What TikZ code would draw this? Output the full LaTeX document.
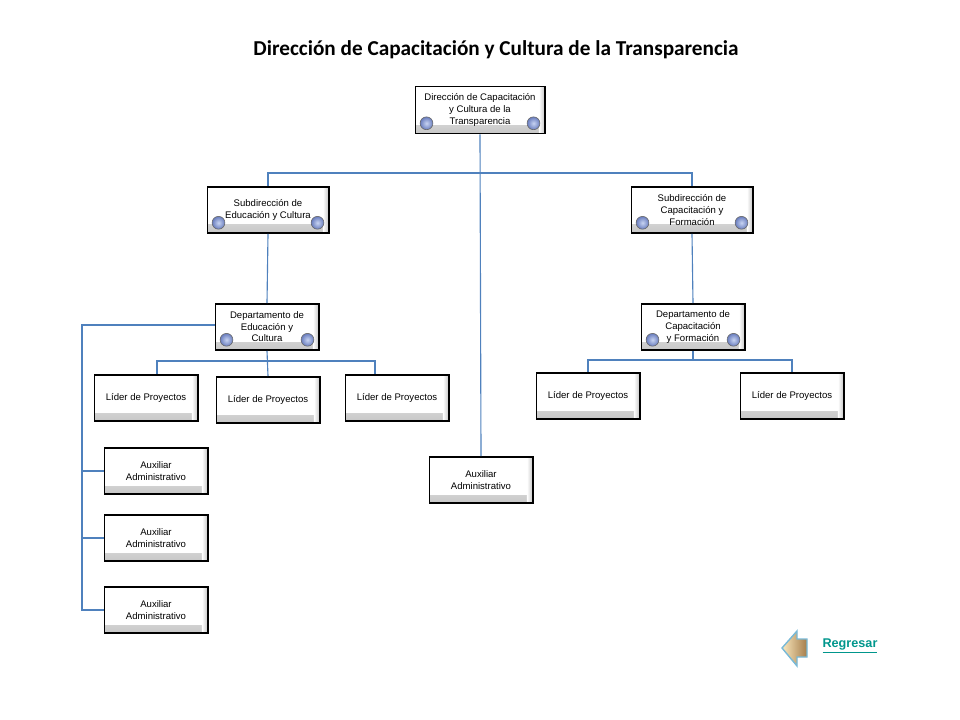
\documentclass[tikz,border=0pt]{standalone}
\usepackage{fontspec}
\setmainfont{Liberation Sans}
\newfontfamily\titulofont{Carlito}
\usetikzlibrary{calc}
\definecolor{linea}{RGB}{79,129,189}
\definecolor{bolaclaro}{RGB}{200,212,242}
\definecolor{bolaazul}{RGB}{105,125,190}
\definecolor{regresar}{RGB}{0,150,140}
\definecolor{flechaclaro}{RGB}{250,232,190}
\definecolor{flechaoscuro}{RGB}{165,125,75}
\definecolor{flechaborde}{RGB}{120,185,215}
\tikzset{
  caja/.style={draw=black, line width=1.4pt, fill=white, minimum width=2.575cm, minimum height=1.15cm,
    align=center, inner sep=1pt, font=\fontsize{6.8}{8.2}\selectfont,
    path picture={
      \shade[top color=white, bottom color=black!22] ($(path picture bounding box.south west)+(0,0.2cm)$) rectangle (path picture bounding box.south east);
      \shade[left color=white, right color=black!22] ($(path picture bounding box.north east)+(-0.14cm,0)$) rectangle (path picture bounding box.south east);}},
  conector/.style={draw=linea, line width=0.8pt},
  bola/.style={draw=black!60, line width=0.4pt, inner color=bolaclaro, outer color=bolaazul}
}
\def\bolas#1{\shadedraw[bola] ($(#1.south west)+(0.3cm,0.28cm)$) circle (0.16cm);
  \shadedraw[bola] ($(#1.south east)+(-0.3cm,0.28cm)$) circle (0.16cm);}

\begin{document}
\begin{tikzpicture}[x=0.025cm,y=-0.025cm]
  \useasboundingbox (0,0) rectangle (960,720);
  %%%%% START %%%%%
  \node[font=\titulofont\bfseries\fontsize{15.1}{17}\selectfont] (titulo) at (496,50) {Dirección de Capacitación y Cultura de la Transparencia};

  \node[caja, minimum width=3.225cm, minimum height=1.175cm] (dir) at (480,110) {Dirección de Capacitación\\y Cultura de la\\Transparencia};
  \bolas{dir}

  \node[caja, minimum width=3.025cm] (subE) at (268,210) {Subdirección de\\Educación y Cultura};
  \bolas{subE}
  \node[caja, minimum width=3.025cm] (subC) at (692,210) {Subdirección de\\Capacitación y\\Formación};
  \bolas{subC}

  \node[caja] (depE) at (267,327) {Departamento de\\Educación y\\Cultura};
  \bolas{depE}
  \node[caja] (depC) at (693,327) {Departamento de\\Capacitación\\y Formación};
  \bolas{depC}

  \node[caja] (lid1) at (146,398) {Líder de Proyectos};
  \node[caja] (lid2) at (268,400) {Líder de Proyectos};
  \node[caja] (lid3) at (397,398) {Líder de Proyectos};
  \node[caja] (lid4) at (588,396) {Líder de Proyectos};
  \node[caja] (lid5) at (792,396) {Líder de Proyectos};

  \node[caja] (aux) at (481,480) {Auxiliar\\Administrativo};
  \node[caja] (aux1) at (156,471) {Auxiliar\\Administrativo};
  \node[caja] (aux2) at (156,538) {Auxiliar\\Administrativo};
  \node[caja] (aux3) at (156,610) {Auxiliar\\Administrativo};

  % lineas
  \coordinate (barra) at (481,173);
  \coordinate (barraE) at (267,361);
  \coordinate (barraC) at (693,360);
  \coordinate (esquina) at (82,325);
  \draw[conector] (dir.south) -- (aux.north);
  \draw[conector] (subE.north) |- (barra) -| (subC.north);
  \draw[conector] (subE.south) -- (depE.north);
  \draw[conector] (subC.south) -- (depC.north);
  \draw[conector] (depE.south) -- (lid2.north);
  \draw[conector] ([xshift=0.275cm]lid1.north) |- (barraE) -| ([xshift=-0.55cm]lid3.north);
  \draw[conector] (depC.south) -- (barraC);
  \draw[conector] (lid4.north) |- (barraC) -| (lid5.north);
  \draw[conector] (depE.west |- esquina) -- (esquina) |- (aux3.west);
  \draw[conector] (aux1.west -| esquina) -- (aux1.west);
  \draw[conector] (aux2.west -| esquina) -- (aux2.west);

  % regresar
  \draw[draw=flechaborde, line width=1pt, left color=flechaclaro, right color=flechaoscuro]
    (782,648) -- (797,631) -- (797,639) -- (807,639) -- (807,657) -- (797,657) -- (797,666) -- cycle;
  \node[text=regresar, font=\bfseries\fontsize{9}{11}\selectfont] (volver) at (850,646) {\underline{Regresar}};
  %%%%% END %%%%%
\end{tikzpicture}
\end{document}
